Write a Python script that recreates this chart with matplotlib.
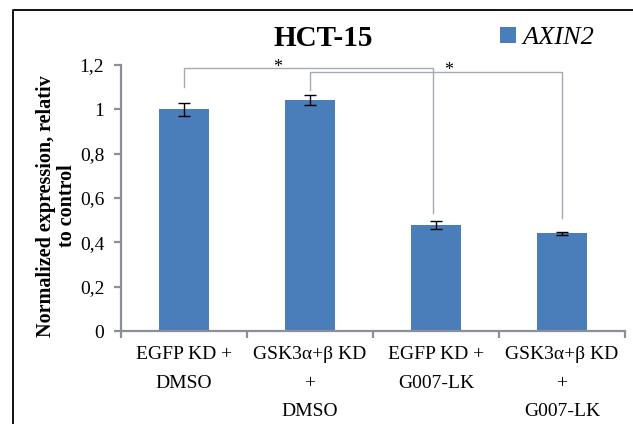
import numpy as np
import matplotlib.pyplot as plt
from matplotlib.lines import Line2D

categories = ["EGFP KD +\nDMSO", "GSK3\u03b1+\u03b2 KD\n+\nDMSO",
              "EGFP KD +\nG007-LK", "GSK3\u03b1+\u03b2 KD\n+\nG007-LK"]
values = [1.0, 1.042, 0.478, 0.44]
errors = [0.03, 0.022, 0.016, 0.008]
yticks = [0, 0.2, 0.4, 0.6, 0.8, 1.0, 1.2]
ytick_labels = ["0", "0,2", "0,4", "0,6", "0,8", "1", "1,2"]

# significance brackets: (left bar, right bar, top, left foot, right foot)
brackets = [(0, 1.98, 1.188, 1.10, 0.532),
            (1, 3.0, 1.168, 1.087, 0.511)]
stars = [(0.74, 1.168), (2.10, 1.155)]

plt.rcParams['font.family'] = ['Liberation Serif', 'DejaVu Serif']

fig = plt.figure(figsize=(6.33, 4.24), dpi=100)
ax = fig.add_axes([121/633, 1-331/424, (625-121)/633, (331-65)/424])

x = np.arange(len(categories))
ax.bar(x, values, width=0.4, color='#4a7ebb', label='AXIN2', zorder=2)
ax.errorbar(x, values, yerr=errors, fmt='none', ecolor='black',
            elinewidth=1, capsize=4, capthick=1, zorder=3)

ax.set_xlim(-0.5, 3.5)
ax.set_ylim(0, 1.2)

axis_col = '#8a8f99'
for s in ['top', 'right']:
    ax.spines[s].set_visible(False)
for s in ['left', 'bottom']:
    ax.spines[s].set_color(axis_col)
    ax.spines[s].set_linewidth(1.6)

ax.set_yticks(yticks)
ax.set_yticklabels(ytick_labels, fontsize=14)
ax.tick_params(axis='y', length=5, width=1.6, color=axis_col, pad=7)

# category labels centered on bars, ticks at category boundaries
ax.set_xticks(x)
ax.set_xticklabels(categories, fontsize=14, linespacing=1.88, va='top')
ax.tick_params(axis='x', which='major', length=0, pad=11)
ax.set_xticks(np.arange(-0.5, 4.0, 1.0), minor=True)
ax.tick_params(axis='x', which='minor', length=5, width=1.6, color=axis_col)

ax.set_ylabel("Normalized expression, relativ\nto control", fontsize=14.5,
              fontweight='bold', linespacing=1.05)
ax.yaxis.set_label_coords(-0.088, 0.47)

br_col = '#a3aab3'
for l, r, top, lf, rf in brackets:
    ax.plot([l, l, r, r], [lf, top, top, rf], color=br_col, lw=1,
            clip_on=False, zorder=1)
for sx, sy in stars:
    ax.text(sx, sy, "*", fontsize=13, ha='center', va='baseline')

fig.text(323/633, 1-38/424, "HCT-15", fontsize=21, fontweight='bold',
         ha='center', va='center')

leg = ax.legend(loc='center left', bbox_to_anchor=(500/633, 1-38/424),
                bbox_transform=fig.transFigure, frameon=False,
                prop={'style': 'italic', 'size': 19},
                handlelength=0.6, handleheight=0.6, handletextpad=0.25,
                borderpad=0, borderaxespad=0)

# outer frame (left and top edges)
fig.add_artist(Line2D([12.5/633, 12.5/633, 1], [0, 1-10/424, 1-10/424],
                      transform=fig.transFigure, color='black', lw=1.3))

fig.savefig("out.png", dpi=100)
